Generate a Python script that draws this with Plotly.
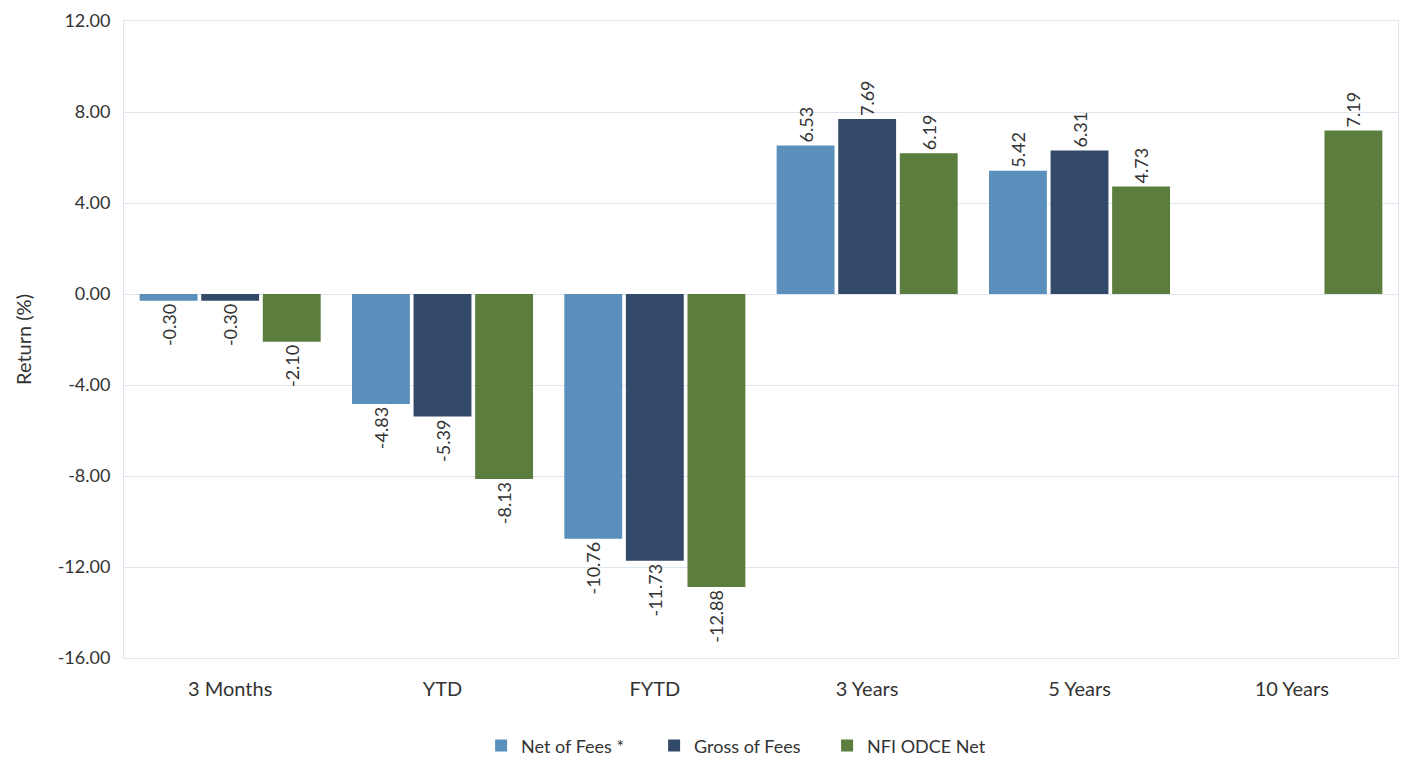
import plotly.graph_objects as go

categories = ["3 Months", "YTD", "FYTD", "3 Years", "5 Years", "10 Years"]
net_of_fees = [-0.30, -4.83, -10.76, 6.53, 5.42, None]
gross_of_fees = [-0.30, -5.39, -11.73, 7.69, 6.31, None]
nfi_odce_net = [-2.10, -8.13, -12.88, 6.19, 4.73, 7.19]
series_names = ["Net of Fees *", "Gross of Fees", "NFI ODCE Net"]
y_tick_values = [12, 8, 4, 0, -4, -8, -12, -16]
y_tick_labels = ["12.00", "8.00", "4.00", "0.00", "-4.00", "-8.00", "-12.00", "-16.00"]
colors = ["#5a90bb", "#33496a", "#5b7e3e"]

FONT = "Lato, 'DejaVu Sans', sans-serif"

fig = go.Figure()
for name, vals, col in zip(series_names, [net_of_fees, gross_of_fees, nfi_odce_net], colors):
    fig.add_trace(go.Bar(
        x=categories, y=vals, name=name,
        marker=dict(color=col, line=dict(width=0)),
        text=[None if v is None else f"{v:.2f}" for v in vals],
        textposition="outside", textangle=-90,
        textfont=dict(size=18, color="#333333", family=FONT),
        cliponaxis=False,
    ))

fig.update_layout(
    width=1403, height=762,
    barmode="group", bargap=0.13, bargroupgap=0.06,
    plot_bgcolor="white", paper_bgcolor="white",
    margin=dict(l=124, r=5, t=21, b=104, autoexpand=False),
    font=dict(family=FONT, size=18, color="#333333"),
    yaxis=dict(
        range=[-16, 12], tickmode="array", tickvals=y_tick_values, ticktext=y_tick_labels,
        showgrid=True, gridcolor="#dfe6ef", gridwidth=1,
        zeroline=True, zerolinecolor="#dfe6ef", zerolinewidth=1,
        showline=True, linecolor="#dfe6ef", mirror=True,
        ticks="", ticklen=0, ticklabelstandoff=9,
        automargin=False,
        title=dict(text="Return (%)", font=dict(size=20, color="#333333"), standoff=20),
        tickfont=dict(size=18, color="#333333"),
    ),
    xaxis=dict(
        showgrid=False, showline=True, linecolor="#dfe6ef", mirror=True,
        tickfont=dict(size=20, color="#333333"), ticks="", ticklen=0,
        ticklabelstandoff=13, automargin=False,
    ),
    legend=dict(
        orientation="h", x=0.484, xanchor="center", y=-0.138, yanchor="middle",
        font=dict(size=18, color="#333333"), itemsizing="constant",
        traceorder="normal", entrywidth=128, entrywidthmode="pixels",
    ),
)

fig.write_html(
    "out.html",
    config={"displayModeBar": False},
    post_script="document.body.style.margin='0';document.body.style.padding='0';",
)
